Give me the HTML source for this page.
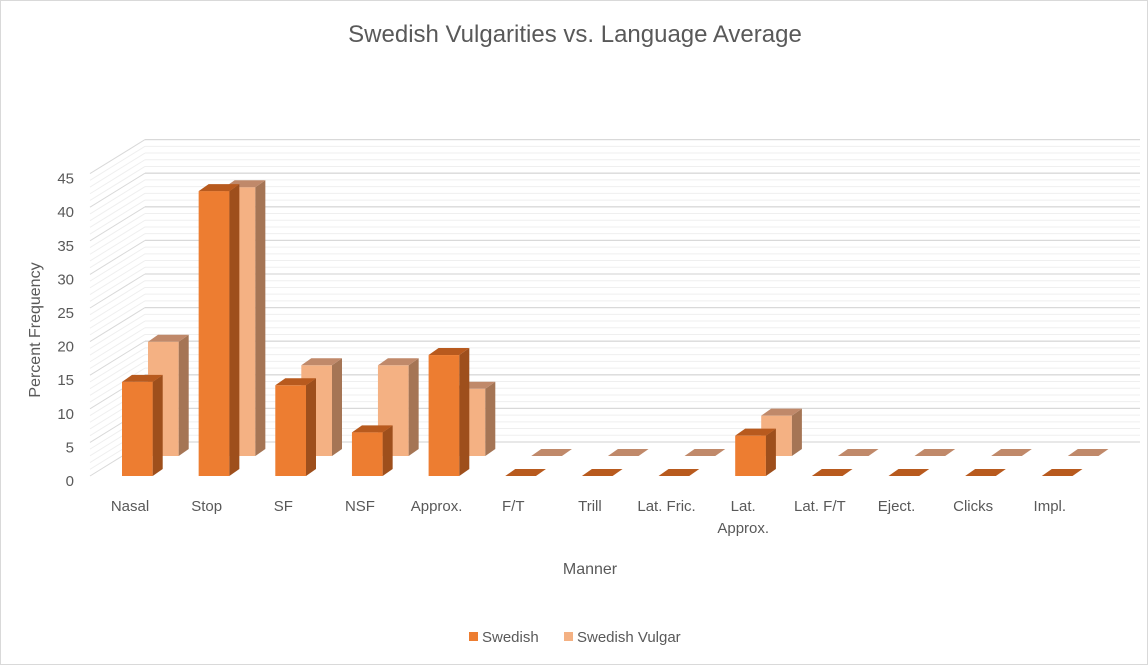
<!DOCTYPE html>
<html><head><meta charset="utf-8"><style>
html,body{margin:0;padding:0;background:#fff}
svg{display:block;font-family:"Liberation Sans",sans-serif}
</style></head><body>
<svg id="chart" width="1148" height="665" viewBox="0 0 1148 665" xmlns="http://www.w3.org/2000/svg">
<rect x="0.5" y="0.5" width="1147" height="664" fill="#fff" stroke="#d9d9d9"/>
<text x="575" y="42" text-anchor="middle" font-size="24" fill="#595959">Swedish Vulgarities vs. Language Average</text>
<g id="walls"></g>
<g id="bars"></g>
<g id="labels"></g>
<text transform="translate(40,330) rotate(-90)" text-anchor="middle" font-size="16" fill="#595959">Percent Frequency</text>
<text x="590" y="574" text-anchor="middle" font-size="16" fill="#595959">Manner</text>
<g>
<rect x="469" y="632" width="9" height="9" fill="#ED7D31"/>
<text x="482" y="642" font-size="15" fill="#595959">Swedish</text>
<rect x="564" y="632" width="9" height="9" fill="#F4B183"/>
<text x="577" y="642" font-size="15" fill="#595959">Swedish Vulgar</text>
</g>
</svg>
<script>
const categories = ["Nasal","Stop","SF","NSF","Approx.","F/T","Trill","Lat. Fric.","Lat. Approx.","Lat. F/T","Eject.","Clicks","Impl."];
const swedish = [14,42.4,13.5,6.5,18,0,0,0,6,0,0,0,0];
const vulgar = [17,40,13.5,13.5,10,0,0,0,6,0,0,0,0];
const yTicks = [0,5,10,15,20,25,30,35,40,45];
const yMax = 45;

const NS="http://www.w3.org/2000/svg";
const pxPerUnit = 6.72;
const frontBase = 476, frontLeft = 90;
const backDx = 55, backDy = -34, backRight = 1140;
function yVal(v, base){ return base - v*pxPerUnit; }
function xCat(i){ return 122 + i*76.65; }
function mk(tag, attrs, parent){ const e=document.createElementNS(NS,tag); for(const k in attrs) e.setAttribute(k,attrs[k]); parent.appendChild(e); return e; }

const walls=document.getElementById('walls');
for(let v=0; v<=yMax; v++){
  const major = v%5===0;
  const yb = yVal(v, frontBase+backDy);
  const yf = yVal(v, frontBase);
  const col = major? "#d9d9d9" : "#efefef";
  const l1=mk('line',{x1:frontLeft+backDx,y1:yb,x2:backRight,y2:yb,stroke:col,'stroke-width':major?1.3:1},walls);
  
  
  const l2=mk('line',{x1:frontLeft,y1:yf,x2:frontLeft+backDx,y2:yb,stroke:col,'stroke-width':1},walls);
  
  
}

const barsG=document.getElementById('bars');
const W=30.7, dX=10, dY=-7;
function drawBar(x, base, v, cFront, cSide, cTop, name){
  const g=mk('g',{},barsG);
  
  
  const top=yVal(v, base);
  if(v>0){
    mk('rect',{x:x,y:top,width:W,height:base-top,fill:cFront},g);
    mk('polygon',{points:`${x+W},${top} ${x+W+dX},${top+dY} ${x+W+dX},${base+dY} ${x+W},${base}`,fill:cSide},g);
  }
  mk('polygon',{points:`${x},${top} ${x+dX},${top+dY} ${x+W+dX},${top+dY} ${x+W},${top}`,fill:cTop},g);
}
vulgar.forEach((v,i)=>drawBar(xCat(i)+26, frontBase-20, v, "#F4B183", "#A57555", "#C0896A", "bar-vulgar-"+i));
swedish.forEach((v,i)=>drawBar(xCat(i), frontBase, v, "#ED7D31", "#9E4F1C", "#B85A1E", "bar-swedish-"+i));

const lab=document.getElementById('labels');
yTicks.forEach(t=>{
  const e=mk('text',{x:74,y:yVal(t,frontBase)+10,'text-anchor':'end','font-size':15,fill:'#595959'},lab);
  e.textContent=t;
  
  
});
categories.forEach((c,i)=>{
  const cx=xCat(i)+8;
  const e=mk('text',{x:cx,'text-anchor':'middle','font-size':15,fill:'#595959'},lab);
  
  
  if(c==="Lat. Approx."){
    const a=mk('tspan',{x:cx,y:511},e); a.textContent="Lat.";
    const b=mk('tspan',{x:cx,y:533},e); b.textContent="Approx.";
  } else { e.setAttribute('y',511); e.textContent=c; }
});
</script>
</body></html>
